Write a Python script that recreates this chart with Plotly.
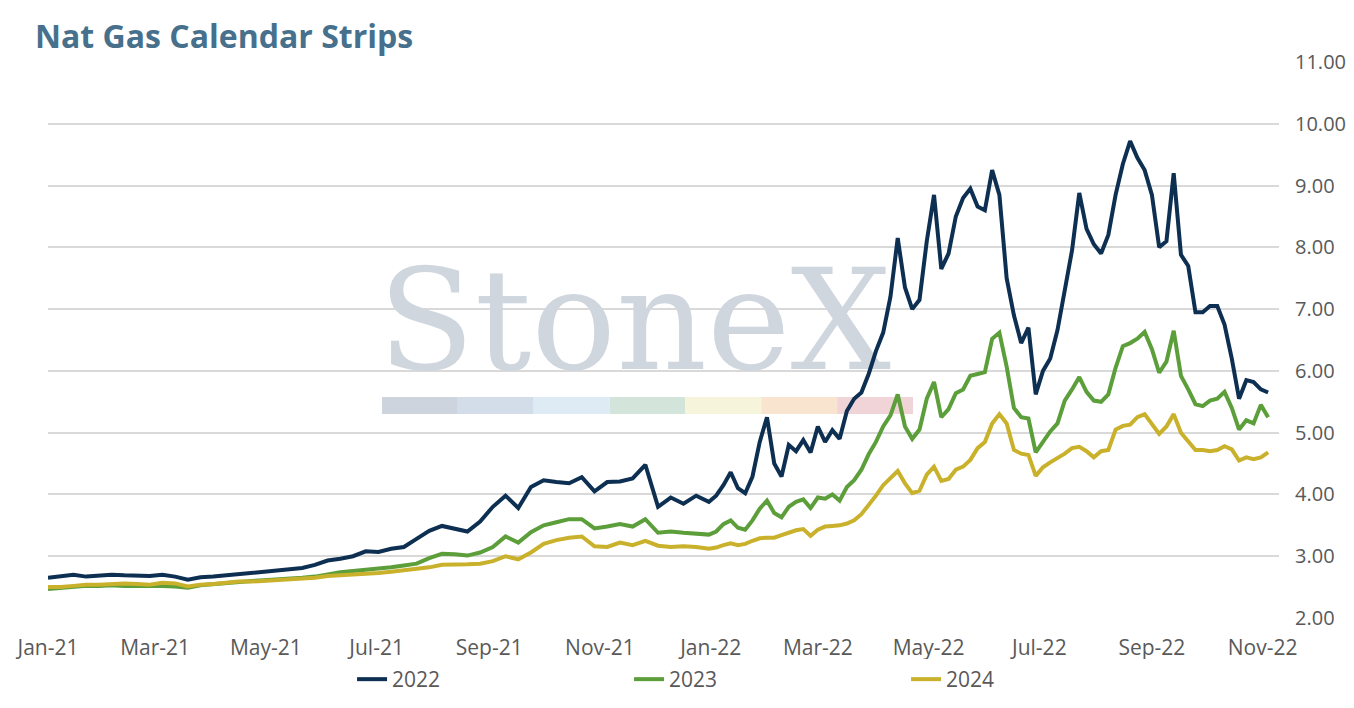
import pandas as pd
import plotly.graph_objects as go

# weekly points through 2021, then every 4 days through 2022
dates = list(pd.date_range("2021-01-01", "2021-12-31", freq="7D")) + \
    list(pd.date_range("2022-01-04", "2022-11-04", freq="4D"))

strip_2022 = [
    2.65, 2.68, 2.70, 2.67, 2.68, 2.70, 2.69, 2.69, 2.68, 2.70,
    2.67, 2.62, 2.66, 2.67, 2.69, 2.72, 2.74, 2.75, 2.77, 2.79,
    2.81, 2.86, 2.93, 2.96, 3.00, 3.08, 3.07, 3.12, 3.15, 3.28,
    3.41, 3.49, 3.44, 3.40, 3.56, 3.80, 3.98, 3.78, 4.12, 4.23,
    4.20, 4.18, 4.28, 4.05, 4.20, 4.21, 4.26, 4.48, 3.80, 3.95,
    3.85, 3.98, 3.88,
    # 2022
    3.98, 4.15, 4.36, 4.10, 4.02, 4.29, 4.85, 5.25, 4.50, 4.29,
    4.80, 4.70, 4.88, 4.68, 5.10, 4.85, 5.04, 4.90, 5.35, 5.55,
    5.65, 5.95, 6.32, 6.62, 7.20, 8.15, 7.35, 7.00, 7.15, 8.10,
    8.85, 7.65, 7.90, 8.50, 8.80, 8.95, 8.66, 8.60, 9.25, 8.85,
    7.50, 6.90, 6.45, 6.70, 5.62, 6.00, 6.20, 6.66, 7.35, 7.95,
    8.88, 8.30, 8.05, 7.90, 8.20, 8.85, 9.35, 9.72, 9.45, 9.25,
    8.85, 8.00, 8.10, 9.20, 7.88, 7.70, 6.95, 6.95, 7.05, 7.05,
    6.75, 6.20, 5.55, 5.85, 5.82, 5.70, 5.65,
]

strip_2023 = [
    2.47, 2.49, 2.51, 2.52, 2.52, 2.53, 2.52, 2.52, 2.53, 2.52,
    2.51, 2.49, 2.53, 2.55, 2.57, 2.59, 2.60, 2.61, 2.62, 2.63,
    2.65, 2.67, 2.71, 2.74, 2.76, 2.78, 2.79, 2.82, 2.85, 2.88,
    2.97, 3.04, 3.03, 3.01, 3.06, 3.15, 3.32, 3.22, 3.39, 3.50,
    3.55, 3.60, 3.60, 3.45, 3.48, 3.52, 3.48, 3.60, 3.38, 3.40,
    3.38, 3.37, 3.35,
    # 2022
    3.40, 3.52, 3.58, 3.46, 3.43, 3.58, 3.77, 3.90, 3.70, 3.63,
    3.80, 3.88, 3.92, 3.78, 3.95, 3.93, 4.00, 3.90, 4.12, 4.23,
    4.40, 4.65, 4.85, 5.10, 5.28, 5.62, 5.10, 4.90, 5.05, 5.55,
    5.82, 5.25, 5.38, 5.64, 5.70, 5.92, 5.95, 5.98, 6.52, 6.62,
    6.07, 5.40, 5.25, 5.23, 4.68, 4.85, 5.02, 5.15, 5.52, 5.70,
    5.90, 5.66, 5.52, 5.50, 5.62, 6.05, 6.40, 6.45, 6.52, 6.63,
    6.35, 5.97, 6.15, 6.65, 5.92, 5.70, 5.46, 5.43, 5.52, 5.55,
    5.66, 5.40, 5.05, 5.20, 5.15, 5.45, 5.25,
]

strip_2024 = [
    2.50, 2.50, 2.52, 2.54, 2.54, 2.55, 2.56, 2.55, 2.54, 2.57,
    2.56, 2.51, 2.54, 2.55, 2.57, 2.59, 2.59, 2.60, 2.61, 2.62,
    2.63, 2.65, 2.68, 2.69, 2.70, 2.72, 2.73, 2.75, 2.77, 2.79,
    2.82, 2.86, 2.86, 2.87, 2.88, 2.92, 3.00, 2.95, 3.06, 3.20,
    3.26, 3.30, 3.32, 3.16, 3.15, 3.22, 3.18, 3.25, 3.17, 3.15,
    3.16, 3.15, 3.12,
    # 2022
    3.14, 3.18, 3.21, 3.18, 3.20, 3.25, 3.29, 3.30, 3.30, 3.34,
    3.38, 3.42, 3.44, 3.33, 3.43, 3.48, 3.49, 3.50, 3.53, 3.58,
    3.68, 3.82, 3.98, 4.15, 4.26, 4.38, 4.18, 4.02, 4.06, 4.32,
    4.45, 4.22, 4.25, 4.40, 4.45, 4.56, 4.75, 4.85, 5.15, 5.30,
    5.15, 4.72, 4.66, 4.64, 4.30, 4.44, 4.52, 4.59, 4.66, 4.75,
    4.77, 4.70, 4.60, 4.70, 4.72, 5.05, 5.11, 5.13, 5.25, 5.30,
    5.15, 4.98, 5.10, 5.30, 5.00, 4.85, 4.72, 4.72, 4.70, 4.72,
    4.78, 4.73, 4.55, 4.60, 4.57, 4.60, 4.68,
]

series = [("2022", strip_2022, "#0d2f52"),
          ("2023", strip_2023, "#5b9e3a"),
          ("2024", strip_2024, "#c9b12b")]

font = "Open Sans"
grey = "#595959"

fig = go.Figure()

# faint StoneX watermark behind the lines
fig.add_trace(go.Scatter(
    x=["2021-11-20"], y=[6.60], mode="text", text=["StoneX"],
    textfont=dict(family="DejaVu Serif", size=141, color="#cfd6de"),
    showlegend=False, hoverinfo="skip"))

for name, vals, col in series:
    fig.add_trace(go.Scatter(x=dates, y=vals, mode="lines", name=name,
                             line=dict(color=col, width=4)))

band_colors = ["#cdd4dd", "#d2dde9", "#deebf4", "#d3e4da",
               "#f6f5dc", "#f9e5cf", "#f1d4d7"]
x0, x1 = 0.2713, 0.7027
w = (x1 - x0) / len(band_colors)
for i, c in enumerate(band_colors):
    fig.add_shape(type="rect", xref="paper", yref="paper",
                  x0=x0 + i * w, x1=x0 + (i + 1) * w, y0=0.367, y1=0.3975,
                  fillcolor=c, line_width=0, layer="below")

# the page body adds 8px all round, so keep the figure inside the window
fig.update_layout(
    width=1338, height=692,
    margin=dict(l=40, r=67, t=54, b=82),
    paper_bgcolor="white", plot_bgcolor="white",
    font=dict(family=font, color=grey, size=21),
    title=dict(text="<b>Nat Gas Calendar Strips</b>", x=0.0202, xanchor="left",
               y=0.958, yanchor="middle",
               font=dict(family=font, size=32, color="#46708c")),
    legend=dict(orientation="h", x=0.247, xanchor="left",
                yref="container", y=0.0, yanchor="bottom",
                entrywidth=232, entrywidthmode="pixels",
                font=dict(size=21, color=grey)),
    showlegend=True,
)
fig.update_xaxes(range=["2021-01-01", "2022-11-10"], tickformat="%b-%y",
                 dtick="M2", tick0="2021-01-01", showgrid=False,
                 showline=False, ticks="", zeroline=False,
                 ticklabelstandoff=15, automargin=False)
fig.update_yaxes(range=[2, 11], dtick=1, tickformat=".2f", side="right",
                 gridcolor="#d9d9d9", gridwidth=1.5, showline=False,
                 zeroline=False, ticks="", ticklabelstandoff=15,
                 tickfont=dict(size=20), automargin=False)

fig.write_html("out.html")
